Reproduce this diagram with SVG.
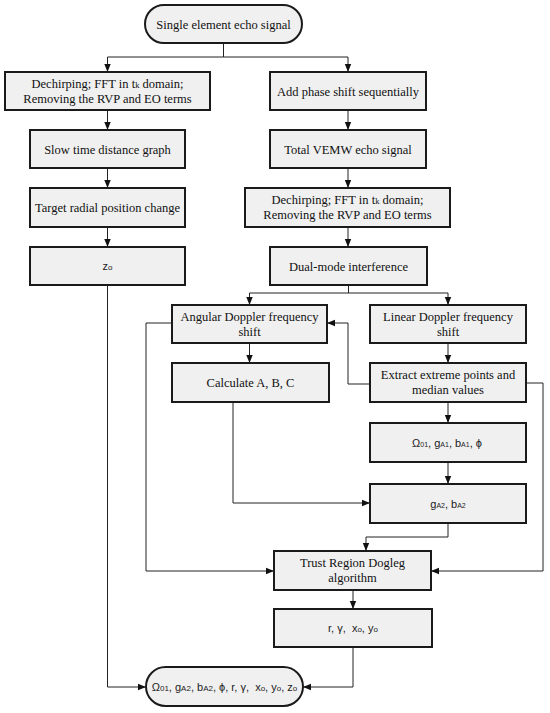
<svg xmlns="http://www.w3.org/2000/svg" width="550" height="713" viewBox="0 0 550 713">
<style>
.box{fill:#f0f0f0;stroke:#1a1a1a;stroke-width:2}
.t{font-family:"Liberation Serif","Times New Roman",serif;font-size:12.5px;fill:#111;text-anchor:middle}
.m{font-family:"Liberation Sans",Arial,sans-serif;font-size:11px;fill:#222;text-anchor:middle}
.s{font-size:8px}
.s2{font-size:7px}
.c{fill:none;stroke:#222;stroke-width:1}
</style>
<defs>
<marker id="ah" markerWidth="8" markerHeight="8" refX="8" refY="4" orient="auto" markerUnits="userSpaceOnUse">
<path d="M0,0.8 L8,4 L0,7.2 Z" fill="#111"/>
</marker>
</defs>
<rect width="550" height="713" fill="#fff"/>
<g id="connectors">
<path class="c" d="M223.5 43 V57 H107.5 V72" marker-end="url(#ah)"/>
<path class="c" d="M223.5 57 H348 V72" marker-end="url(#ah)"/>
<path class="c" d="M107.5 110 V130" marker-end="url(#ah)"/>
<path class="c" d="M348 110 V130" marker-end="url(#ah)"/>
<path class="c" d="M107.5 168 V188" marker-end="url(#ah)"/>
<path class="c" d="M348 168 V188" marker-end="url(#ah)"/>
<path class="c" d="M107.5 227 V247" marker-end="url(#ah)"/>
<path class="c" d="M348 227 V247" marker-end="url(#ah)"/>
<path class="c" d="M107.5 285 V687 H146" marker-end="url(#ah)"/>
<path class="c" d="M348.5 285 V293 H249.5 V305" marker-end="url(#ah)"/>
<path class="c" d="M348.5 293 H448 V305" marker-end="url(#ah)"/>
<path class="c" d="M172 323 H146 V571 H274" marker-end="url(#ah)"/>
<path class="c" d="M249.5 343 V363" marker-end="url(#ah)"/>
<path class="c" d="M448 343 V363" marker-end="url(#ah)"/>
<path class="c" d="M370 384 H348 V323 H327" marker-end="url(#ah)"/>
<path class="c" d="M526 383 H543 V571 H431" marker-end="url(#ah)"/>
<path class="c" d="M448 402 V423" marker-end="url(#ah)"/>
<path class="c" d="M448 462 V484" marker-end="url(#ah)"/>
<path class="c" d="M233 402 V503 H370" marker-end="url(#ah)"/>
<path class="c" d="M448 523 V537 H366 V551" marker-end="url(#ah)"/>
<path class="c" d="M353 590 V609" marker-end="url(#ah)"/>
<path class="c" d="M353 647 V687 H303" marker-end="url(#ah)"/>
</g>
<g id="start">
<rect class="box" x="145" y="5" width="157" height="38" rx="19"/>
<text class="t" x="223.5" y="28.5">Single element echo signal</text>
</g>
<g id="dechirp-left">
<rect class="box" x="5" y="72" width="205" height="38"/>
<text class="t" x="107.5" y="88">Dechirping; FFT in t<tspan font-size="8.5">k</tspan> domain;</text>
<text class="t" x="107.5" y="103">Removing the RVP and EO terms</text>
</g>
<g id="phase-shift">
<rect class="box" x="270" y="72" width="156" height="38"/>
<text class="t" x="348" y="95.5">Add phase shift sequentially</text>
</g>
<g id="slow-time">
<rect class="box" x="30" y="130" width="155" height="38"/>
<text class="t" x="107.5" y="153.5">Slow time distance graph</text>
</g>
<g id="total-vemw">
<rect class="box" x="270" y="130" width="156" height="38"/>
<text class="t" x="348" y="153.5">Total VEMW echo signal</text>
</g>
<g id="radial-change">
<rect class="box" x="30" y="188" width="155" height="39"/>
<text class="t" x="107.5" y="212">Target radial position change</text>
</g>
<g id="dechirp-right">
<rect class="box" x="245" y="188" width="205" height="39"/>
<text class="t" x="347.5" y="204">Dechirping; FFT in t<tspan font-size="8.5">k</tspan> domain;</text>
<text class="t" x="347.5" y="219">Removing the RVP and EO terms</text>
</g>
<g id="z0">
<rect class="box" x="30" y="247" width="155" height="38"/>
<text class="m" x="107.5" y="270">z<tspan class="s">o</tspan></text>
</g>
<g id="dual-mode">
<rect class="box" x="270" y="247" width="157" height="38"/>
<text class="t" x="348.5" y="270.5">Dual-mode interference</text>
</g>
<g id="angular">
<rect class="box" x="172" y="305" width="155" height="38"/>
<text class="t" x="249.5" y="321">Angular Doppler frequency</text>
<text class="t" x="249.5" y="336">shift</text>
</g>
<g id="linear">
<rect class="box" x="370" y="305" width="156" height="38"/>
<text class="t" x="448" y="321">Linear Doppler frequency</text>
<text class="t" x="448" y="336">shift</text>
</g>
<g id="calculate">
<rect class="box" x="172" y="363" width="157" height="39"/>
<text class="t" x="250.5" y="387">Calculate A, B, C</text>
</g>
<g id="extract">
<rect class="box" x="370" y="363" width="156" height="39"/>
<text class="t" x="448" y="379">Extract extreme points and</text>
<text class="t" x="448" y="394">median values</text>
</g>
<g id="omega">
<rect class="box" x="370" y="423" width="156" height="39"/>
<text class="m" x="447" y="447">Ω<tspan class="s2">01</tspan>, g<tspan class="s2">A1</tspan>, b<tspan class="s2">A1</tspan>, ϕ</text>
</g>
<g id="ga2">
<rect class="box" x="370" y="484" width="156" height="39"/>
<text class="m" x="448" y="508">g<tspan class="s2">A2</tspan>, b<tspan class="s2">A2</tspan></text>
</g>
<g id="trust-region">
<rect class="box" x="274" y="551" width="157" height="39"/>
<text class="t" x="352.5" y="567">Trust Region Dogleg</text>
<text class="t" x="352.5" y="582">algorithm</text>
</g>
<g id="r-gamma">
<rect class="box" x="274" y="609" width="158" height="38"/>
<text class="m" x="353" y="632" xml:space="preserve">r, γ,  x<tspan class="s">o</tspan>, y<tspan class="s">o</tspan></text>
</g>
<g id="result">
<rect class="box" x="146" y="667" width="157" height="39" rx="19.5"/>
<text class="m" x="224.5" y="690.5" xml:space="preserve">Ω<tspan class="s">01</tspan>, g<tspan class="s">A2</tspan>, b<tspan class="s">A2</tspan>, ϕ, r, γ,  x<tspan class="s">o</tspan>, y<tspan class="s">o</tspan>, z<tspan class="s">o</tspan></text>
</g>
</svg>
